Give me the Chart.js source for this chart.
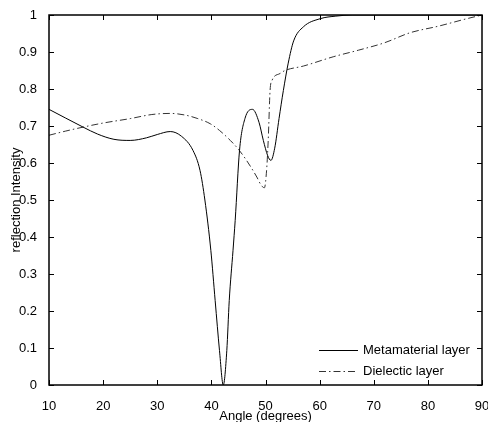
<!DOCTYPE html>
<html>
<head>
<meta charset="utf-8">
<script src="https://cdn.jsdelivr.net/npm/chart.js@4.4.0/dist/chart.umd.min.js"></script>
<style>
  html, body { margin: 0; padding: 0; background: #fff; }
  #wrap { width: 488px; height: 422px; }
</style>
</head>
<body>
<div id="wrap"><canvas id="chart" width="488" height="422"></canvas></div>
<script>
// Dati
const metaAngles = [10, 13, 16.3, 19, 22, 25, 28, 30, 32.4, 34.5, 36.6, 37.9, 38.8, 39.9, 40.7, 41.5, 42.2,
                    42.85, 43.3, 44.0, 44.4, 45.2, 46.2, 47.6, 48.8, 49.6, 50.4, 51.0, 51.7, 52.5, 53.3,
                    54.2, 55.2, 57.0, 60.1, 63, 66, 70, 80, 90];
const metaValues = [0.745, 0.722, 0.697, 0.678, 0.664, 0.661, 0.668, 0.677, 0.685, 0.672, 0.634, 0.58, 0.5, 0.364, 0.228, 0.093, 0.0,
                    0.093, 0.228, 0.364, 0.445, 0.634, 0.72, 0.745, 0.71, 0.661, 0.62, 0.607, 0.64, 0.72, 0.796,
                    0.87, 0.93, 0.968, 0.99, 0.997, 1.0, 1.0, 1.0, 1.0];

const dielAngles = [10, 13, 16.3, 20, 25, 29, 32.4, 35, 37.5, 39.8, 41.5, 43.5, 45, 46.5, 48.4, 49.2, 49.8,
                    50.2, 50.5, 50.85, 51.2, 52.7, 53.6, 57, 62.5, 67.2, 72, 76.7, 82, 87.2, 90];
const dielValues = [0.675, 0.686, 0.697, 0.708, 0.72, 0.731, 0.734, 0.73, 0.72, 0.706, 0.688, 0.661, 0.637, 0.607, 0.562, 0.54, 0.533,
                    0.58, 0.661, 0.797, 0.823, 0.842, 0.85, 0.862, 0.887, 0.905, 0.925, 0.952, 0.97, 0.99, 1.0];

const xTicks = [10, 20, 30, 40, 50, 60, 70, 80, 90];
const yTicks = [0, 0.1, 0.2, 0.3, 0.4, 0.5, 0.6, 0.7, 0.8, 0.9, 1];
const seriesNames = ['Metamaterial layer', 'Dielectic layer'];

const FONT = { family: '"Liberation Sans", Arial, sans-serif', size: 13 };
const DASH = [7, 3, 1.5, 3];

const toPoints = (xs, ys) => xs.map((x, i) => ({ x: x, y: ys[i] }));

// Riquadro, tacche interne e legenda stile MATLAB
const matlabBox = {
    id: 'matlabBox',
    afterDraw(chart) {
        const ctx = chart.ctx;
        const a = chart.chartArea;
        const xs = chart.scales.x, ys = chart.scales.y;
        ctx.save();
        ctx.strokeStyle = '#000';
        ctx.lineWidth = 1;
        ctx.beginPath();
        xTicks.forEach(v => {
            const px = Math.round(xs.getPixelForValue(v)) + 0.5;
            ctx.moveTo(px, a.bottom); ctx.lineTo(px, a.bottom - 5);
            ctx.moveTo(px, a.top); ctx.lineTo(px, a.top + 5);
        });
        yTicks.forEach(v => {
            const py = Math.round(ys.getPixelForValue(v)) + 0.5;
            ctx.moveTo(a.left, py); ctx.lineTo(a.left + 5, py);
            ctx.moveTo(a.right, py); ctx.lineTo(a.right - 5, py);
        });
        ctx.stroke();
        ctx.lineWidth = 1.5;
        ctx.strokeRect(a.left, a.top, a.right - a.left, a.bottom - a.top);

        // legenda
        const x0 = a.right - 163, x1 = a.right - 124, tx = a.right - 119;
        const rows = [a.bottom - 35, a.bottom - 14];
        ctx.font = FONT.size + 'px ' + FONT.family;
        ctx.textBaseline = 'middle';
        ctx.fillStyle = '#000';
        rows.forEach((y, i) => {
            ctx.beginPath();
            ctx.lineWidth = 1;
            ctx.strokeStyle = i === 0 ? '#000' : '#333';
            ctx.setLineDash(i === 0 ? [] : DASH);
            ctx.moveTo(x0, y + 0.5); ctx.lineTo(x1, y + 0.5);
            ctx.stroke();
            ctx.setLineDash([]);
            ctx.fillText(seriesNames[i], tx, y);
        });
        ctx.restore();
    }
};

new Chart(document.getElementById('chart'), {
    type: 'line',
    data: {
        datasets: [{
            label: seriesNames[0],
            data: toPoints(metaAngles, metaValues),
            borderColor: '#000',
            borderWidth: 1,
            pointRadius: 0,
            cubicInterpolationMode: 'monotone'
        }, {
            label: seriesNames[1],
            data: toPoints(dielAngles, dielValues),
            borderColor: '#333',
            borderWidth: 1,
            borderDash: DASH,
            pointRadius: 0,
            cubicInterpolationMode: 'monotone'
        }]
    },
    options: {
        responsive: false,
        animation: false,
        layout: { padding: { top: 15, right: 6, left: 0, bottom: 0 } },
        plugins: {
            legend: { display: false },
            tooltip: { enabled: false }
        },
        scales: {
            x: {
                type: 'linear',
                min: 10, max: 90,
                afterFit: s => { s.height = 37; s.paddingLeft = 0; s.paddingRight = 0; },
                afterBuildTicks: s => { s.ticks = xTicks.map(v => ({ value: v })); },
                grid: { display: false },
                border: { display: false },
                ticks: { color: '#000', font: FONT, padding: 6, maxRotation: 0 },
                title: { display: true, text: 'Angle (degrees)', color: '#000', font: FONT, padding: { top: 0, bottom: -2 } }
            },
            y: {
                min: 0, max: 1,
                afterFit: s => { s.width = 49; },
                afterBuildTicks: s => { s.ticks = yTicks.map(v => ({ value: v })); },
                grid: { display: false },
                border: { display: false },
                ticks: { color: '#000', font: FONT, padding: 4, callback: v => String(+v.toFixed(1)) },
                title: { display: true, text: 'reflection Intensity', color: '#000', font: FONT, padding: { top: 9, bottom: 0 } }
            }
        }
    },
    plugins: [matlabBox]
});
</script>
</body>
</html>
